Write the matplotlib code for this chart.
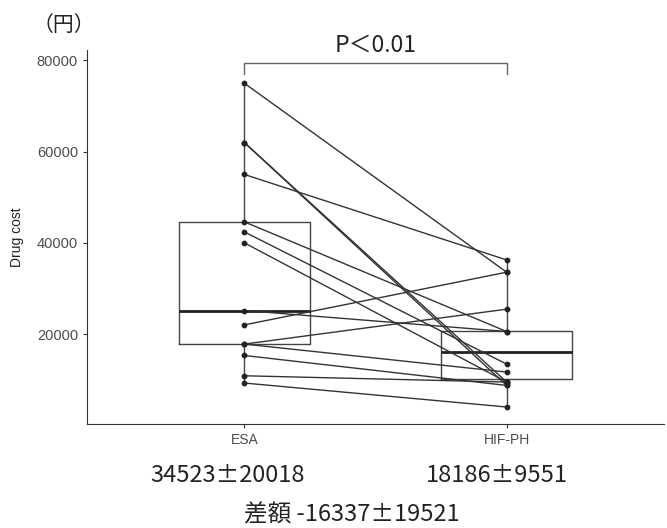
import matplotlib
matplotlib.use('Agg')
import matplotlib.pyplot as plt

# paired drug cost per patient (yen)
esa_cost = [75000, 62000, 62000, 55000, 44600, 42400, 40000, 25150, 22000, 17790, 17790, 15290, 10840, 9245]
hif_cost = [33560, 9460, 8720, 36250, 20550, 13400, 9460, 20550, 33560, 25450, 11650, 8720, 9460, 3990]

groups = ['ESA', 'HIF-PH']
# box statistics: low whisker, Q1, median, Q3, high whisker
esa_box = [9245, 17790, 25150, 44600, 75000]
hif_box = [3990, 10100, 16030, 20700, 36250]

summary = ['34523\u00b120018', '18186\u00b19551']
diff_text = '差額 -16337\u00b119521'
p_text = 'P\uff1c0.01'

jp = ['Noto Sans CJK JP', 'DejaVu Sans']
plt.rcParams['font.family'] = ['Liberation Sans', 'DejaVu Sans']

fig = plt.figure(figsize=(6.67, 5.28), dpi=100)
ax = fig.add_axes([87 / 667, 104 / 528, 577 / 667, 374 / 528])

stats = []
for name, b in zip(groups, [esa_box, hif_box]):
    stats.append(dict(label=name, whislo=b[0], q1=b[1], med=b[2], q3=b[3], whishi=b[4], fliers=[]))
ax.bxp(stats, positions=[1, 2], widths=0.5, showfliers=False, showcaps=False,
       boxprops=dict(color='#444444', linewidth=1.0),
       whiskerprops=dict(color='#444444', linewidth=1.0),
       medianprops=dict(color='#222222', linewidth=2.0), zorder=1)

for e, h in zip(esa_cost, hif_cost):
    ax.plot([1, 2], [e, h], color='#333333', linewidth=1.0, zorder=2)
ax.scatter([1] * len(esa_cost), esa_cost, s=10, color='#222222', zorder=3)
ax.scatter([2] * len(hif_cost), hif_cost, s=10, color='#222222', zorder=3)

# significance bracket
ax.plot([1, 1, 2, 2], [77000, 79350, 79350, 77000], color='#666666', linewidth=1.0, clip_on=False)
ax.text(1.5, 83400, p_text, ha='center', va='center', fontsize=16.5, family=jp, color='#222222')

ax.set_xlim(0.4, 2.6)
ax.set_ylim(260, 82300)
ax.set_xticks([1, 2])
ax.set_xticklabels(groups, fontsize=10, color='#4d4d4d')
ax.set_yticks([20000, 40000, 60000, 80000])
ax.set_yticklabels(['20000', '40000', '60000', '80000'], fontsize=10.5, color='#4d4d4d')
ax.tick_params(length=3, width=0.8, color='#333333')
ax.set_ylabel('Drug cost', fontsize=10, color='#222222', labelpad=9)
ax.spines['top'].set_visible(False)
ax.spines['right'].set_visible(False)
ax.spines['left'].set_color('#333333')
ax.spines['bottom'].set_color('#333333')

fig.text(64 / 667, 1 - 25 / 528, '（円）', ha='center', va='center', fontsize=15, family=jp, color='#222222')
fig.text(228 / 667, 1 - 475 / 528, summary[0], ha='center', va='center', fontsize=17, family=jp, color='#222222')
fig.text(497 / 667, 1 - 475 / 528, summary[1], ha='center', va='center', fontsize=17, family=jp, color='#222222')
fig.text(352 / 667, 1 - 515 / 528, diff_text, ha='center', va='center', fontsize=17, family=jp, color='#222222')

fig.savefig('out.png', dpi=100)
